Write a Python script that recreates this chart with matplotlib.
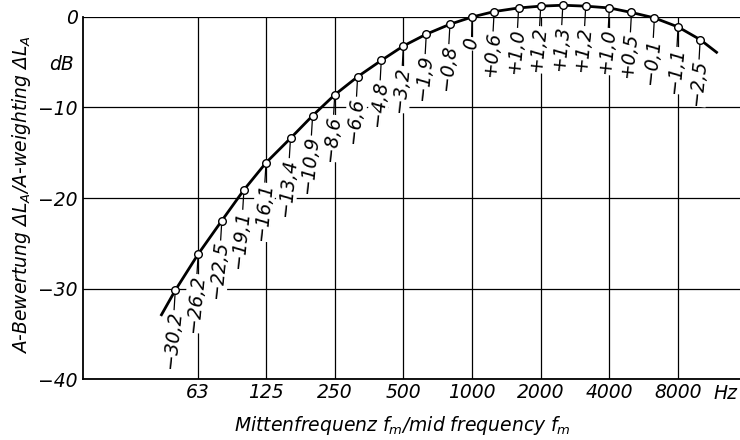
import numpy as np
import matplotlib.pyplot as plt
from matplotlib.ticker import NullLocator

# third-octave mid frequencies and A-weighting values (dB)
freqs = [50, 63, 80, 100, 125, 160, 200, 250, 315, 400, 500, 630, 800,
         1000, 1250, 1600, 2000, 2500, 3150, 4000, 5000, 6300, 8000, 10000]
weights = [-30.2, -26.2, -22.5, -19.1, -16.1, -13.4, -10.9, -8.6, -6.6, -4.8,
           -3.2, -1.9, -0.8, 0, 0.6, 1.0, 1.2, 1.3, 1.2, 1.0, 0.5, -0.1, -1.1, -2.5]

# where the drawn curve stops on both sides
end_freqs = [43.5, 11800]
end_weights = [-32.9, -3.9]

grid_freqs = [63, 125, 250, 500, 1000, 2000, 4000, 8000]
grid_labels = ['63', '125', '250', '500', '1000', '2000', '4000', '8000']
db_ticks = [0, -10, -20, -30, -40]
db_labels = ['0', '\u221210', '\u221220', '\u221230', '\u221240']

fs = 13.5
plt.rcParams['font.family'] = 'DejaVu Sans'
plt.rcParams['font.style'] = 'italic'
plt.rcParams['font.size'] = fs
plt.rcParams['mathtext.fontset'] = 'custom'
plt.rcParams['mathtext.rm'] = 'DejaVu Sans:italic'
plt.rcParams['mathtext.it'] = 'DejaVu Sans:italic'


def fmt(v):
    if v == 0:
        return '0'
    return f'{v:+.1f}'.replace('.', ',').replace('-', '\u2212')


fig = plt.figure(figsize=(7.4, 4.4), dpi=100)
ax = fig.add_axes([83/740, 61/440, 657/740, 362/440])
ax.set_xscale('log')
ax.set_xlim(19.7, 14950)
ax.set_ylim(-40, 0)
ax.set_xticks(grid_freqs, grid_labels)
ax.xaxis.set_minor_locator(NullLocator())
ax.set_yticks(db_ticks, db_labels)
ax.tick_params(length=0, labelsize=fs)
ax.tick_params(axis='y', pad=4)
ax.tick_params(axis='x', pad=3)
ax.grid(color='black', lw=0.9, zorder=0)
ax.set_axisbelow(True)
ax.spines['top'].set_visible(False)
ax.spines['right'].set_visible(False)
ax.spines['left'].set_linewidth(1.3)
ax.spines['bottom'].set_linewidth(1.3)

cx = [end_freqs[0]] + freqs + [end_freqs[1]]
cy = [end_weights[0]] + weights + [end_weights[1]]
ax.plot(cx, cy, 'k-', lw=2, clip_on=False, zorder=4)
ax.plot(freqs, weights, 'o', ms=5.5, mfc='white', mec='black', mew=1,
        clip_on=False, zorder=5)

# value labels hang under each point, almost vertical
for f, v in zip(freqs, weights):
    ax.annotate(fmt(v), (f, v), xytext=(0, -15), textcoords='offset points',
                rotation=84, rotation_mode='anchor', ha='right', va='center',
                fontsize=fs, zorder=3, annotation_clip=False,
                bbox=dict(fc='white', ec='none', pad=0.5),
                arrowprops=dict(arrowstyle='-', lw=0.9, shrinkA=0, shrinkB=3))

fig.text(62/740, 1-65/440, 'dB', ha='center', va='center', fontsize=fs)
fig.text(725/740, 1-393/440, 'Hz', ha='center', va='center', fontsize=fs)
fig.text(22/740, 1-195/440, r'A-Bewertung $\Delta L_A$/A-weighting $\Delta L_A$',
         rotation=90, ha='center', va='center', fontsize=fs)
fig.text(402/740, 1-425/440, r'Mittenfrequenz $f_m$/mid frequency $f_m$',
         ha='center', va='center', fontsize=fs)

plt.savefig('out.png', dpi=100)
